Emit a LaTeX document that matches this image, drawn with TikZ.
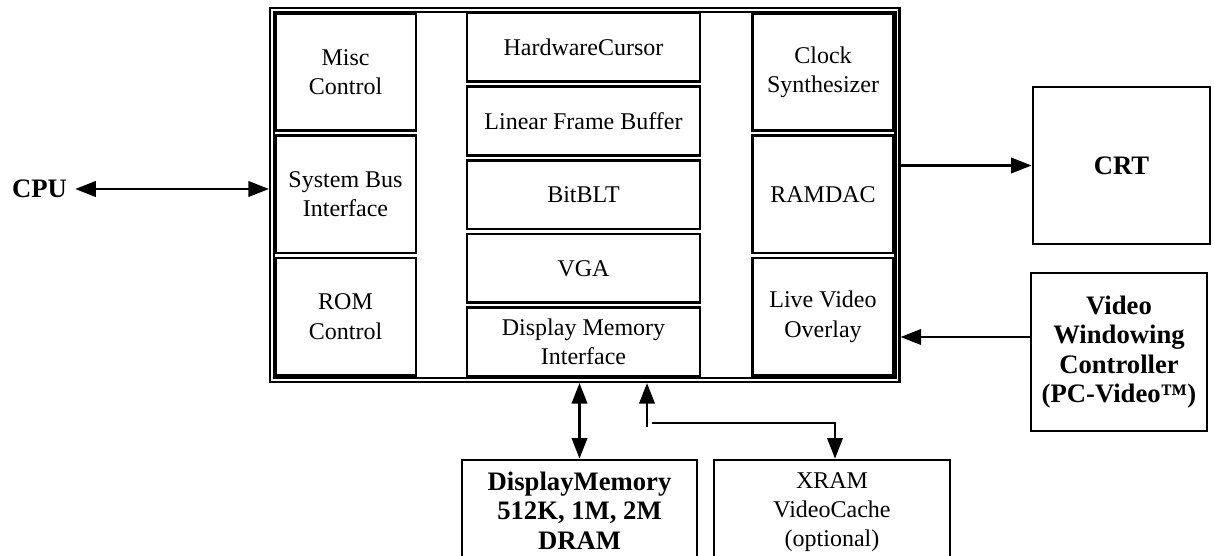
\documentclass[tikz,border=0pt]{standalone}
\usepackage{fontspec}
\setmainfont{Liberation Serif}
\usetikzlibrary{positioning,arrows.meta}
\newcommand\blkfont{\fontsize{18}{22}\selectfont}
\newcommand\extfont{\fontsize{20}{22}\selectfont\bfseries}
\tikzstyle{blk}=[rectangle, draw, line width=2pt, align=center, inner sep=0pt, font=\blkfont]
\tikzstyle{sidebox}=[blk, minimum width=105.5pt, minimum height=88pt]
\tikzstyle{midbox}=[blk, minimum width=174.75pt, minimum height=51.5pt]
\tikzstyle{extbox}=[blk, font=\extfont]
\tikzstyle{link}=[-{Triangle[length=15.5pt,width=11.5pt]}, line width=2.2pt]
\tikzstyle{dlink}=[{Triangle[length=15.5pt,width=11.5pt]}-{Triangle[length=15.5pt,width=11.5pt]}, line width=2.2pt]

\begin{document}
\begin{tikzpicture}[x=0.75pt, y=-0.75pt]
    \useasboundingbox (0,0) rectangle (1214,556);
    \clip (0,0) rectangle (1214,556);

    \node (chip) [draw, double, line width=1.6pt, double distance=1.4pt, outer sep=2.25pt, minimum width=469.1pt, minimum height=277.5pt] at (584.75,195) {};

% LEFT COLUMN
    \node (misc) [sidebox] at (345.5,72) {Misc\\Control};
    \node (sysbus) [sidebox, below=1.75pt of misc] {System Bus\\Interface};
    \node (romctl) [sidebox, below=1.75pt of sysbus] {ROM\\Control};
% MIDDLE COLUMN
    \node (hwcur) [midbox] at (583.5,47.3) {HardwareCursor};
    \node (lfb) [midbox, below=1.75pt of hwcur] {Linear Frame Buffer};
    \node (bitblt) [midbox, below=1.75pt of lfb] {BitBLT};
    \node (vga) [midbox, below=1.75pt of bitblt] {VGA};
    \node (dmi) [midbox, below=1.75pt of vga] {Display Memory\\Interface};
% RIGHT COLUMN
    \node (clksyn) [sidebox] at (823,72) {Clock\\Synthesizer};
    \node (ramdac) [sidebox, below=1.75pt of clksyn] {RAMDAC};
    \node (lvo) [sidebox, below=1.75pt of ramdac] {Live Video\\Overlay};
%%%% end chip

    \node (cpu) [font=\extfont, inner sep=6pt] at (39.5,189) {CPU};
    \node (crt) [extbox, minimum width=132.75pt, minimum height=117.75pt] at (1121.5,165.5) {CRT};
    \node (vwc) [extbox, minimum width=132pt, minimum height=118.5pt] at (1119,352) {Video\\Windowing\\Controller\\(PC-Video™)};
    \node (dram) [extbox, minimum width=176.25pt, minimum height=75.75pt] at (579.5,510.5) {DisplayMemory\\512K, 1M, 2M\\DRAM};
    \node (xram) [blk, minimum width=177pt, minimum height=78pt] at (832,512) {XRAM\\VideoCache\\(optional)};

    \coordinate (tap) at (647,427);
    \coordinate (bend) at (652,423);

   \draw[dlink] (cpu.east) -- (cpu.east -| chip.west);
   \draw[link] (crt.west -| chip.east) -- (crt.west);
   \draw[link] ([yshift=11.25pt]vwc.west) -- ([yshift=11.25pt]vwc.west -| chip.east);

%memory lines
   \draw[dlink] (dram.north |- chip.south) -- (dram.north);
   \draw[link] (tap) -- (tap |- chip.south);
   \draw[link] (bend) -| ([xshift=2.25pt]xram.north);

\end{tikzpicture}
\end{document}
